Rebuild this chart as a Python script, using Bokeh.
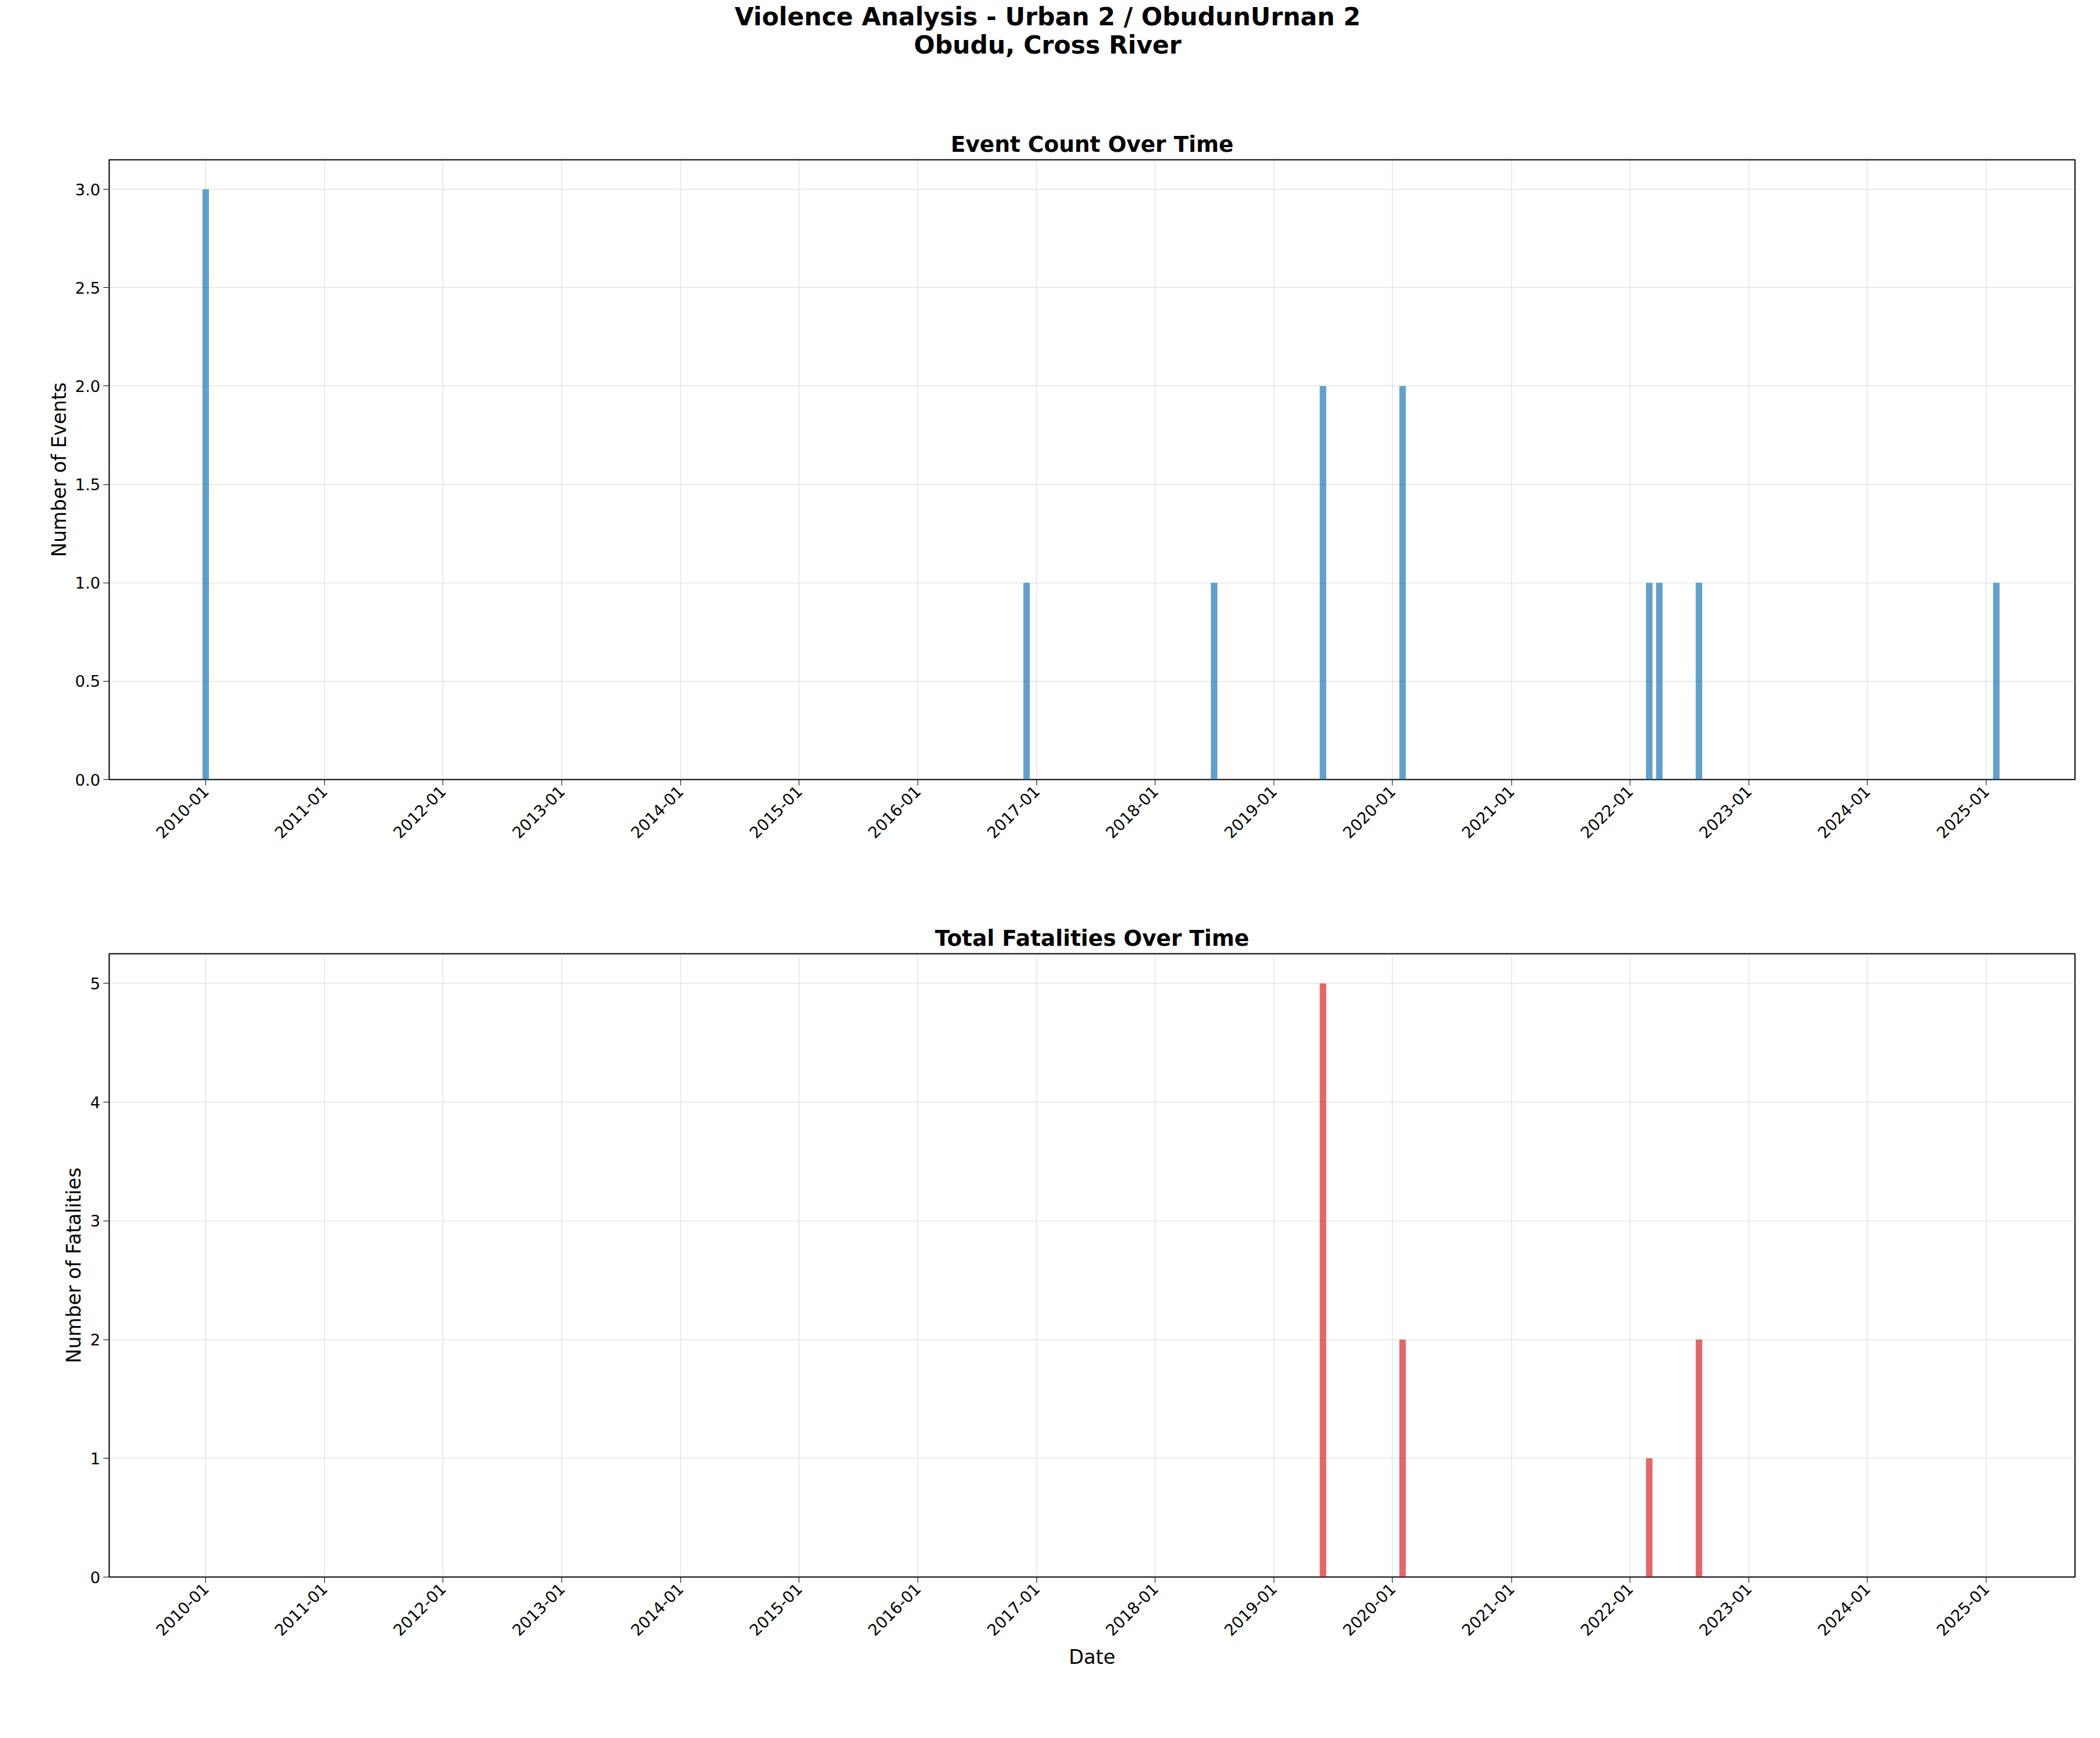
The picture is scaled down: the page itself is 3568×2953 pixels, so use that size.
from datetime import datetime
from math import pi
from bokeh.plotting import figure
from bokeh.models import ColumnDataSource, Div, FixedTicker, DatetimeTickFormatter, Label, Range1d, NumeralTickFormatter
from bokeh.layouts import column
from bokeh.embed import file_html
from bokeh.resources import INLINE

# data
event_dates = ["2010-01", "2016-12", "2018-07", "2019-06", "2020-02", "2022-03", "2022-04", "2022-08", "2025-02"]
event_counts = [3, 1, 1, 2, 2, 1, 1, 1, 1]
fatality_dates = ["2019-06", "2020-02", "2022-03", "2022-08"]
fatality_counts = [5, 2, 1, 2]
tick_years = list(range(2010, 2026))

W = 3550
FONT = "DejaVu Sans"
DAY = 86400000.0

def ms(s):
    return datetime.strptime(s, "%Y-%m").timestamp() * 1000.0

ticks = [datetime(y, 1, 1).timestamp() * 1000.0 for y in tick_years]
x0 = datetime(2009, 3, 10).timestamp() * 1000.0
x1 = datetime(2025, 10, 1).timestamp() * 1000.0

def make_fig(title, height, ymax, ylabel, top, bottom, xlabel=None):
    p = figure(width=W, height=height, x_axis_type="datetime", title=title,
               x_range=Range1d(x0, x1), y_range=Range1d(0, ymax),
               output_backend="svg", toolbar_location=None,
               min_border_left=185, min_border_right=25,
               min_border_top=top, min_border_bottom=bottom)
    p.title.align = "center"
    p.title.text_font = FONT
    p.title.text_font_size = "37px"
    p.title.text_font_style = "bold"
    p.title.text_color = "black"
    p.xaxis.ticker = FixedTicker(ticks=ticks)
    p.xaxis.formatter = DatetimeTickFormatter(days="%Y-%m", months="%Y-%m", years="%Y-%m")
    p.xaxis.major_label_orientation = pi / 4
    for ax in (p.xaxis[0], p.yaxis[0]):
        ax.major_label_text_font = FONT
        ax.major_label_text_font_size = "27px"
        ax.major_label_text_color = "black"
        ax.axis_label_text_font = FONT
        ax.axis_label_text_font_size = "33px"
        ax.axis_label_text_font_style = "normal"
        ax.axis_label_text_color = "black"
        ax.minor_tick_line_color = None
        ax.major_tick_in = 0
        ax.major_tick_out = 10
        ax.major_tick_line_color = "black"
        ax.axis_line_color = None
    p.yaxis.axis_label = ylabel
    if xlabel:
        p.xaxis.axis_label = xlabel
    p.outline_line_color = "black"
    p.outline_line_width = 2
    p.outline_line_alpha = 1.0
    p.xgrid.grid_line_color = "#b0b0b0"
    p.ygrid.grid_line_color = "#b0b0b0"
    p.xgrid.grid_line_alpha = 0.45
    p.ygrid.grid_line_alpha = 0.45
    return p

title = Div(text="<div style='width:%dpx;text-align:center;font-family:DejaVu Sans;font-weight:bold;"
                 "font-size:42px;line-height:1.15;color:black'>Violence Analysis - Urban 2 / ObudunUrnan 2<br>Obudu, Cross River</div>" % W,
            width=W, height=182)

p1 = make_fig("Event Count Over Time", 1300, 3.15, "Number of Events", 79, 168)
p1.yaxis.ticker = FixedTicker(ticks=[0, 0.5, 1, 1.5, 2, 2.5, 3])
p1.yaxis.formatter = NumeralTickFormatter(format="0.0")
src1 = ColumnDataSource(dict(x=[ms(d) for d in event_dates], top=event_counts))
p1.vbar(x="x", top="top", width=20 * DAY, source=src1, fill_color="#1f77b4", fill_alpha=0.7, line_color=None)

p2 = make_fig("Total Fatalities Over Time", 1455, 5.25, "Number of Fatalities", 128, 268, xlabel="Date")
p2.yaxis.ticker = FixedTicker(ticks=[0, 1, 2, 3, 4, 5])
src2 = ColumnDataSource(dict(x=[ms(d) for d in fatality_dates], top=fatality_counts))
p2.vbar(x="x", top="top", width=20 * DAY, source=src2, fill_color="#d62728", fill_alpha=0.7, line_color=None)

summary = Label(x=-140, y=-255, x_units="screen", y_units="screen", level="overlay",
                text="Summary:\nTotal Events: 13\nTotal Fatalities: 10\nPeriod: 2010-01 to 2025-03",
                text_font=FONT, text_font_size="27px", text_line_height=1.1,
                background_fill_color="#d9d9d9", background_fill_alpha=1.0,
                border_line_color="black", border_line_width=2, padding=8, border_radius=8)
p2.add_layout(summary)

layout = column(title, p1, p2, spacing=0)
open("out.html", "w").write(file_html(layout, INLINE))
